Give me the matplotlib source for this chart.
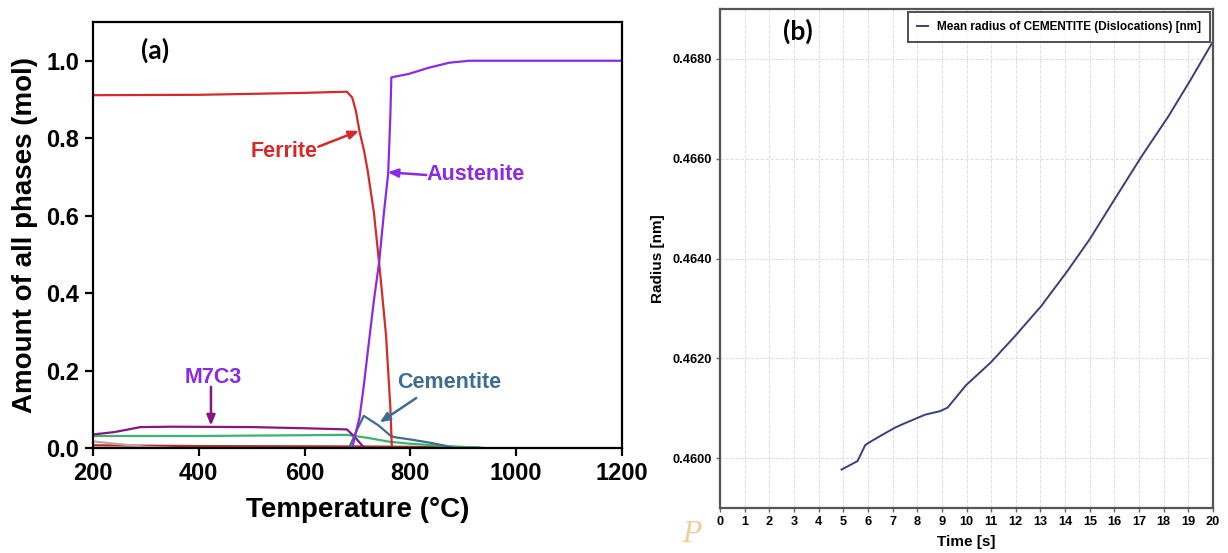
import matplotlib
matplotlib.use("Agg")
import matplotlib.pyplot as plt

plt.rcParams['font.family'] = ['Liberation Sans', 'DejaVu Sans']

# ---- (a) equilibrium phase amounts vs temperature ----
ferrite_T = [200, 400, 600, 680, 690, 697, 704, 712, 719, 731, 742, 754, 762, 765]
ferrite = [0.911, 0.912, 0.917, 0.920, 0.905, 0.870, 0.816, 0.770, 0.718, 0.608, 0.463, 0.290, 0.107, 0.0]

austenite_T = [690, 696, 704, 712, 719, 731, 741, 750, 758, 762, 764, 797, 835, 874, 912, 1200]
austenite = [0.0, 0.035, 0.080, 0.162, 0.244, 0.381, 0.481, 0.608, 0.709, 0.854, 0.957, 0.966, 0.982, 0.995, 1.0, 1.0]

m7c3_T = [200, 240, 290, 350, 500, 600, 680, 695, 713]
m7c3 = [0.035, 0.041, 0.054, 0.055, 0.054, 0.051, 0.048, 0.028, 0.0]

cementite_T = [684, 700, 712, 740, 763, 770, 800, 840, 868, 885]
cementite = [0.0, 0.050, 0.083, 0.058, 0.031, 0.028, 0.022, 0.013, 0.005, 0.0]

green_T = [200, 400, 600, 680, 720, 761, 800, 868, 930]
green_phase = [0.031, 0.031, 0.033, 0.034, 0.026, 0.016, 0.011, 0.005, 0.001]

grey_T = [200, 250, 300, 350]
grey_phase = [0.017, 0.010, 0.003, 0.0]

minor_T = [200, 400, 700, 900, 940]
minor_phase = [0.007, 0.005, 0.004, 0.002, 0.0]

x_ticks_a = [200, 400, 600, 800, 1000, 1200]
y_ticks_a = [0.0, 0.2, 0.4, 0.6, 0.8, 1.0]

# ---- (b) mean cementite radius vs time ----
time_s = [4.93, 5.58, 5.89, 6.04, 6.49, 7.10, 7.41, 8.32, 8.92, 9.23, 9.68, 9.98,
          10.97, 11.96, 13.02, 14.08, 14.99, 16.05, 17.12, 18.18, 19.09, 20.0]
radius_nm = [0.45977, 0.45994, 0.46026, 0.46031, 0.46044, 0.46061, 0.46068, 0.46087,
             0.46094, 0.46101, 0.46128, 0.46146, 0.46191, 0.46244, 0.46304, 0.46374,
             0.46438, 0.46522, 0.46606, 0.46684, 0.46758, 0.46835]
x_ticks_b = list(range(0, 21))
y_ticks_b = [0.4600, 0.4620, 0.4640, 0.4660, 0.4680]

W, H = 1228, 553
fig = plt.figure(figsize=(W / 100, H / 100), dpi=100)


def px_axes(x0, y0, x1, y1):
    return fig.add_axes([x0 / W, 1 - y1 / H, (x1 - x0) / W, (y1 - y0) / H])


# Panel (a)
ax = px_axes(93, 22, 622, 448)
c_fer = '#D42A2A'
c_aus = '#8A2BE2'
c_m7 = '#85177F'
c_cem = '#3F6D90'
c_grn = '#3CB371'

ax.plot(minor_T, minor_phase, color='#B03030', lw=1.6)
ax.plot(grey_T, grey_phase, color='#C8A0A0', lw=1.6)
ax.plot(green_T, green_phase, color=c_grn, lw=1.6)
ax.plot(m7c3_T, m7c3, color=c_m7, lw=1.6)
ax.plot(cementite_T, cementite, color=c_cem, lw=1.6)
ax.plot(ferrite_T, ferrite, color=c_fer, lw=1.6)
ax.plot(austenite_T, austenite, color=c_aus, lw=1.6)

ax.set_xlim(200, 1200)
ax.set_ylim(0, 1.1)
ax.set_xticks(x_ticks_a)
ax.set_yticks(y_ticks_a)
ax.set_yticklabels([f"{v:.1f}" for v in y_ticks_a])
ax.tick_params(direction='out', length=6, width=1.6, labelsize=17, pad=4)
for lbl in ax.get_xticklabels() + ax.get_yticklabels():
    lbl.set_fontweight('bold')
for s in ax.spines.values():
    s.set_linewidth(1.6)
ax.set_xlabel('Temperature (\u00b0C)', fontsize=20, fontweight='bold', labelpad=9)
ax.set_ylabel('Amount of all phases (mol)', fontsize=20, fontweight='bold', labelpad=6)
ax.text(317, 1.026, '(a)', fontsize=19, fontweight='bold',
        family=['Lato', 'DejaVu Sans'], ha='center', va='center')

label_kw = dict(fontsize=15.5, fontweight='bold', ha='center', va='center')
ax.text(562, 0.765, 'Ferrite', color=c_fer, **label_kw)
ax.text(924, 0.705, 'Austenite', color=c_aus, **label_kw)
ax.text(428, 0.183, 'M7C3', color=c_aus, **label_kw)
ax.text(873, 0.168, 'Cementite', color=c_cem, **label_kw)


def pointer(start, end, color):
    ax.annotate('', xy=end, xytext=start,
                arrowprops=dict(arrowstyle='-|>,head_length=0.6,head_width=0.25',
                                lw=1.8, color=color, shrinkA=0, shrinkB=0))


pointer((626, 0.778), (703, 0.819), c_fer)
pointer((830, 0.705), (757, 0.712), c_aus)
pointer((423, 0.158), (423, 0.058), c_m7)
pointer((811, 0.129), (742, 0.066), c_cem)

# Panel (b)
bx = px_axes(720, 9, 1213, 508)
bx.plot(time_s, radius_nm, color='#3B3F78', lw=1.4,
        label='Mean radius of CEMENTITE (Dislocations) [nm]')
bx.set_xlim(0, 20)
bx.set_ylim(0.4590, 0.4690)
bx.set_xticks(x_ticks_b)
bx.set_yticks(y_ticks_b)
bx.set_yticklabels([f"{v:.4f}" for v in y_ticks_b])
bx.grid(True, color='#DEDEDE', lw=0.8, linestyle=(0, (3, 1.5)))
bx.set_axisbelow(True)
bx.tick_params(direction='out', length=3, width=1.0, color='#666666', pad=3,
               labelsize=9.2)
for lbl in bx.get_xticklabels() + bx.get_yticklabels():
    lbl.set_fontweight('bold')
for s in bx.spines.values():
    s.set_linewidth(1.6)
    s.set_color('#555555')
bx.set_xlabel('Time [s]', fontsize=11, fontweight='bold', labelpad=5)
bx.set_ylabel('Radius [nm]', fontsize=11, fontweight='bold', labelpad=5)
bx.text(0.158, 0.955, '(b)', transform=bx.transAxes, fontsize=19, fontweight='bold',
        family=['Lato', 'DejaVu Sans'], ha='center', va='center')
leg = bx.legend(loc='upper right', frameon=True, fancybox=False,
                borderaxespad=0.25, handlelength=0.9, handletextpad=0.8,
                borderpad=0.75, prop={'weight': 'bold', 'size': 8.5})
leg.get_frame().set_edgecolor('#222222')
leg.get_frame().set_linewidth(1.4)

# faint publisher mark
fig.text(692 / W, 1 - 534 / H, 'P', color='#F2CC99', fontsize=20,
         family='DejaVu Serif', style='italic', ha='center', va='center')

fig.savefig('out.png', dpi=100)
